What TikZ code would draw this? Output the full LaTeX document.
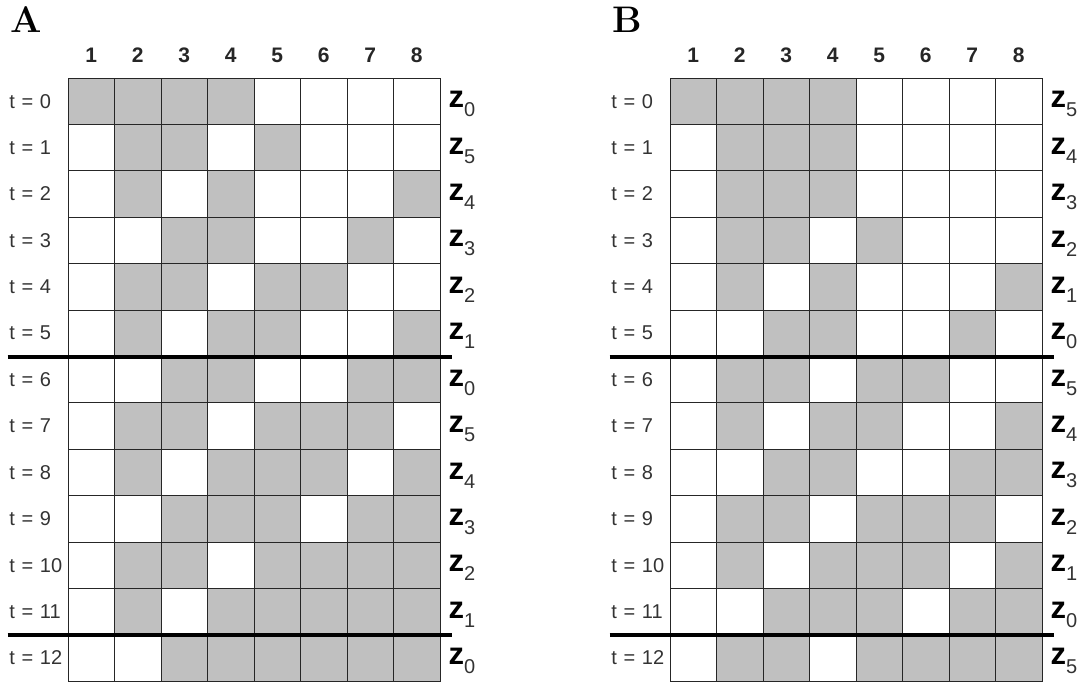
\documentclass[tikz,border=0pt]{standalone}
\usepackage{fontspec}
\usepackage{xcolor}
\usepackage{tikz}
\usetikzlibrary{positioning, calc}

\newfontfamily\arialfont{Liberation Sans}
\definecolor{cellgray}{HTML}{C0C0C0}

\tikzset{
    cell/.style={draw=black!85, line width=0.9pt, inner sep=0pt, minimum width=46.5pt, minimum height=46.4pt},
    collabel/.style={inner sep=0pt, font=\arialfont\bfseries\fontsize{21}{21}\selectfont, text=black!85},
    tlabel/.style={inner sep=0pt, text width=52pt, align=left, font=\arialfont\fontsize{20}{20}\selectfont, text=black!80},
    zlabel/.style={inner sep=0pt},
    panel/.style={inner sep=0pt, font=\bfseries\fontsize{37}{37}\selectfont},
    sepline/.style={line width=4pt, black}
}

\newcommand{\zsub}[1]{{\arialfont\bfseries\fontsize{31}{31}\selectfont z}\raisebox{-9pt}{\arialfont\color{black!80}\fontsize{20}{20}\selectfont #1}}

% #1 panel name, #2 left edge, #3 offset for the z index, #4 rows
\newcommand{\weavepanel}[4]{%
    \node[panel, anchor=base west] (#1-lab) at (#2-58, 32) {#1};
    \foreach \row [count=\r from 0] in {#4} {
        \foreach \v [count=\c] in \row {
            \node[cell, fill=cellgray!\v00!white] (#1-\r-\c) at (#2+46.5*\c-23.25, 101.2+46.4*\r) {};
        }
        \pgfmathtruncatemacro{\z}{mod(#3-\r,6)}
        \node[tlabel, left=6pt of #1-\r-1] (#1-t\r) {\mbox{t = \r}};
        \node[zlabel, right=8pt of #1-\r-8, yshift=-3pt] (#1-z\r) {\zsub{\z}};
    }
    \foreach \c in {1,...,8}
        \node[collabel, above=15pt of #1-0-\c] (#1-n\c) {\c};
    \draw[sepline] ($(#1-5-1.south west)+(-60,0)$) -- ($(#1-5-8.south east)+(12,0)$);
    \draw[sepline] ($(#1-11-1.south west)+(-60,0)$) -- ($(#1-11-8.south east)+(12,0)$);
}

\begin{document}
\begin{tikzpicture}[x=1pt, y=-1pt]
    \useasboundingbox (0,0) rectangle (1085,688);

    \weavepanel{A}{68}{12}{
        {1,1,1,1,0,0,0,0},
        {0,1,1,0,1,0,0,0},
        {0,1,0,1,0,0,0,1},
        {0,0,1,1,0,0,1,0},
        {0,1,1,0,1,1,0,0},
        {0,1,0,1,1,0,0,1},
        {0,0,1,1,0,0,1,1},
        {0,1,1,0,1,1,1,0},
        {0,1,0,1,1,1,0,1},
        {0,0,1,1,1,0,1,1},
        {0,1,1,0,1,1,1,1},
        {0,1,0,1,1,1,1,1},
        {0,0,1,1,1,1,1,1}}

    \weavepanel{B}{670}{17}{
        {1,1,1,1,0,0,0,0},
        {0,1,1,1,0,0,0,0},
        {0,1,1,1,0,0,0,0},
        {0,1,1,0,1,0,0,0},
        {0,1,0,1,0,0,0,1},
        {0,0,1,1,0,0,1,0},
        {0,1,1,0,1,1,0,0},
        {0,1,0,1,1,0,0,1},
        {0,0,1,1,0,0,1,1},
        {0,1,1,0,1,1,1,0},
        {0,1,0,1,1,1,0,1},
        {0,0,1,1,1,0,1,1},
        {0,1,1,0,1,1,1,1}}

\end{tikzpicture}
\end{document}
